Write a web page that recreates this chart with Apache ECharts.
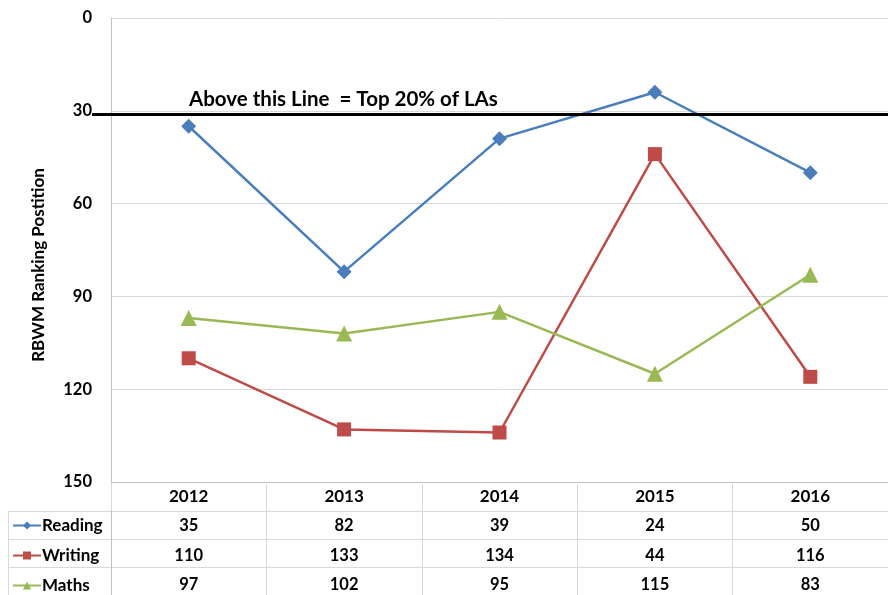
<!DOCTYPE html>
<html>
<head>
<meta charset="utf-8">
<script src="https://cdn.jsdelivr.net/npm/echarts@6/dist/echarts.min.js"></script>
<style>
  html, body { margin: 0; padding: 0; background: #fff; }
  #chart { width: 888px; height: 595px; }
</style>
</head>
<body>
<div id="chart"></div>
<script>
// years on the x axis
const years = ['2012', '2013', '2014', '2015', '2016'];
// ranking positions (lower = better)
const reading = [35, 82, 39, 24, 50];
const writing = [110, 133, 134, 44, 116];
const maths = [97, 102, 95, 115, 83];
const rowNames = ['Reading', 'Writing', 'Maths'];
const topLine = 31; // top 20% threshold

const font = 'Lato';
const gridColor = '#d9d9d9';

const chart = echarts.init(document.getElementById('chart'), null, {renderer: 'canvas'});

// data table under the chart: one column of values per year
const tableRows = [reading, writing, maths];
const tableColumn = (val, idx) => tableRows.map(r => r[idx]).join('\n');

chart.setOption({
  animation: false,
  backgroundColor: '#fff',
  textStyle: {fontFamily: font},
  title: {
    text: 'Above this Line  = Top 20% of LAs',
    left: 189,
    top: 89,
    padding: 0,
    textStyle: {fontFamily: font, fontWeight: 'bold', fontSize: 20.5, color: '#000'}
  },
  legend: {
    data: rowNames,
    orient: 'vertical',
    left: 12,
    top: 517,
    height: 100,
    padding: 0,
    itemWidth: 28,
    itemHeight: 10,
    itemGap: 13,
    selectedMode: false,
    textStyle: {fontFamily: font, fontWeight: 'bold', fontSize: 17, color: '#000', padding: [0, 0, 0, -4]}
  },
  grid: [
    {left: 111, top: 18, width: 790, height: 464},
    {left: 111, top: 511, width: 790, height: 88.5}
  ],
  xAxis: [
    {
      type: 'category',
      data: years,
      gridIndex: 0,
      position: 'bottom',
      boundaryGap: true,
      axisLine: {onZero: false, lineStyle: {color: '#bfbfbf', width: 1}},
      axisTick: {show: true, length: 29, lineStyle: {color: gridColor}},
      axisLabel: {margin: 6, fontFamily: font, fontWeight: 'bold', fontSize: 17, color: '#000'},
      splitLine: {show: false}
    },
    {
      type: 'category',
      data: years,
      gridIndex: 1,
      position: 'top',
      boundaryGap: true,
      axisLine: {show: false, onZero: false},
      axisTick: {show: false},
      axisLabel: {
        inside: true,
        margin: 0,
        formatter: tableColumn,
        lineHeight: 29.5,
        fontFamily: font,
        fontWeight: 'bold',
        fontSize: 16.5,
        color: '#000'
      },
      splitLine: {show: true, lineStyle: {color: gridColor}}
    }
  ],
  yAxis: [
    {
      type: 'value',
      gridIndex: 0,
      min: 0,
      max: 150,
      interval: 30,
      inverse: true,
      name: 'RBWM Ranking Postition',
      nameLocation: 'middle',
      nameRotate: 90,
      nameGap: 64,
      nameTextStyle: {fontFamily: font, fontWeight: 'bold', fontSize: 17, color: '#000', padding: [0, 0, 0, -30]},
      axisLine: {show: true, lineStyle: {color: '#bfbfbf'}},
      axisTick: {show: false},
      axisLabel: {margin: 19, fontFamily: font, fontWeight: 'bold', fontSize: 16.5, color: '#000'},
      splitLine: {show: true, lineStyle: {color: gridColor}}
    },
    {
      type: 'category',
      data: rowNames,
      gridIndex: 1,
      inverse: true,
      boundaryGap: true,
      axisLine: {show: true, onZero: false, lineStyle: {color: '#bfbfbf'}},
      axisTick: {show: true, length: 103, lineStyle: {color: gridColor}},
      axisLabel: {show: false},
      splitLine: {show: true, lineStyle: {color: gridColor}}
    }
  ],
  graphic: [
    {
      type: 'line',
      shape: {x1: 8.5, y1: 511, x2: 8.5, y2: 595},
      style: {stroke: gridColor, lineWidth: 1},
      silent: true
    }
  ],
  series: [
    {
      name: 'Reading',
      type: 'line',
      data: reading,
      symbol: 'diamond',
      symbolSize: 15,
      color: '#4a7ebb',
      lineStyle: {width: 2.5},
      markLine: {
        silent: true,
        symbol: 'none',
        label: {show: false},
        lineStyle: {color: '#000', width: 3, type: 'solid'},
        data: [[
          {xAxis: 0, yAxis: topLine, x: 92},
          {xAxis: 4, yAxis: topLine, x: 888}
        ]]
      }
    },
    {
      name: 'Writing',
      type: 'line',
      data: writing,
      symbol: 'rect',
      symbolSize: 14,
      color: '#be4b48',
      lineStyle: {width: 2.5}
    },
    {
      name: 'Maths',
      type: 'line',
      data: maths,
      symbol: 'triangle',
      symbolSize: 16,
      color: '#98b954',
      lineStyle: {width: 2.5}
    }
  ]
});
</script>
</body>
</html>
